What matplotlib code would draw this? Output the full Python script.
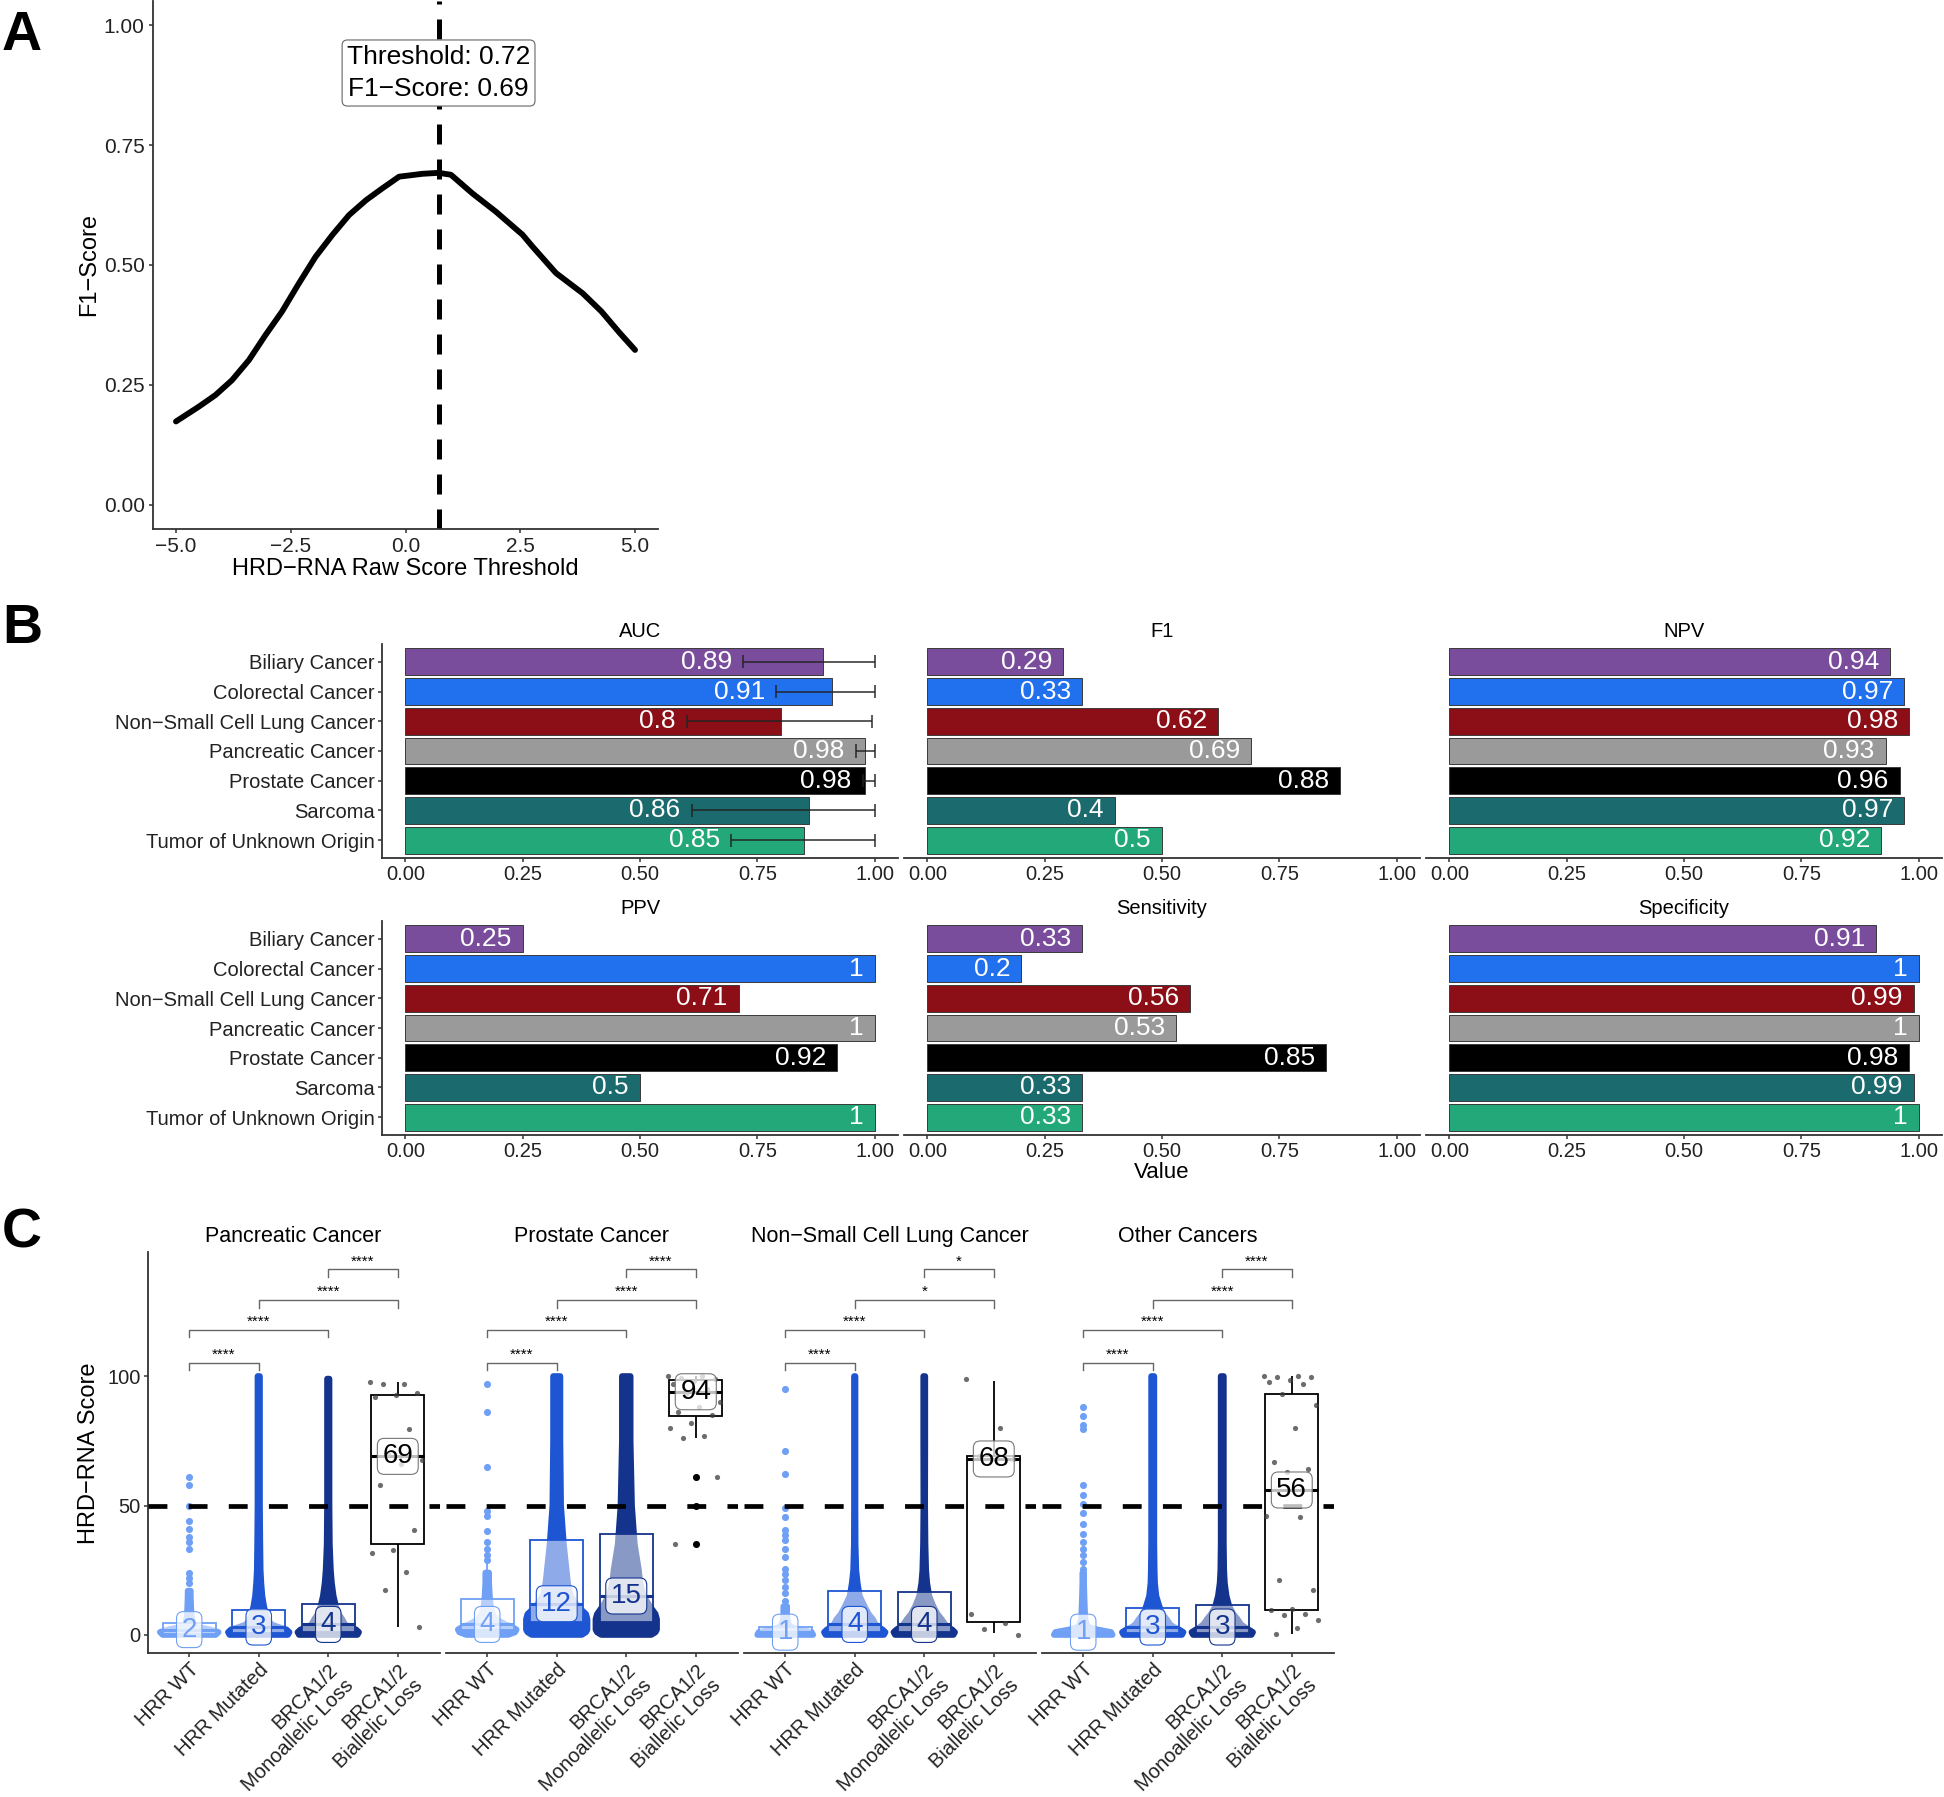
import numpy as np
import matplotlib
matplotlib.use('Agg')
import matplotlib.pyplot as plt
from matplotlib.patches import Rectangle

plt.rcParams['font.family'] = ['Liberation Sans', 'DejaVu Sans']
plt.rcParams['axes.linewidth'] = 1.3
plt.rcParams['axes.edgecolor'] = '#333333'
plt.rcParams['xtick.color'] = '#333333'
plt.rcParams['ytick.color'] = '#333333'
plt.rcParams['xtick.major.size'] = 3
plt.rcParams['ytick.major.size'] = 3
plt.rcParams['xtick.major.width'] = 1.1
plt.rcParams['ytick.major.width'] = 1.1

W, H = 1944, 1797

# ---- panel A: F1 score vs raw score threshold
thr = [-5.0, -4.5, -4.14, -3.78, -3.41, -3.05, -2.69, -2.32, -1.96, -1.59, -1.23, -0.86, -0.5,
       -0.14, 0.37, 0.72, 0.99, 1.46, 1.97, 2.55, 2.77, 3.28, 3.86, 4.27, 4.67, 5.0]
f1_curve = [0.174, 0.205, 0.229, 0.260, 0.302, 0.354, 0.403, 0.462, 0.517, 0.563, 0.604, 0.635,
            0.660, 0.684, 0.690, 0.692, 0.688, 0.649, 0.611, 0.563, 0.538, 0.483, 0.441, 0.403,
            0.358, 0.323]
best_thr = 0.72
best_f1 = 0.69

# ---- panel B: per cancer metrics
cancers = ['Biliary Cancer', 'Colorectal Cancer', 'Non\u2212Small Cell Lung Cancer',
           'Pancreatic Cancer', 'Prostate Cancer', 'Sarcoma', 'Tumor of Unknown Origin']
cancer_colors = ['#794C9C', '#2170EE', '#8C0F17', '#9A9A9A', '#000000', '#1B6B6E', '#23A87A']
metrics = ['AUC', 'F1', 'NPV', 'PPV', 'Sensitivity', 'Specificity']
auc = [0.89, 0.91, 0.8, 0.98, 0.98, 0.86, 0.85]
auc_lo = [0.72, 0.79, 0.60, 0.96, 0.975, 0.61, 0.695]
auc_hi = [1.0, 1.0, 0.995, 1.0, 1.0, 1.0, 1.0]
f1 = [0.29, 0.33, 0.62, 0.69, 0.88, 0.4, 0.5]
npv = [0.94, 0.97, 0.98, 0.93, 0.96, 0.97, 0.92]
ppv = [0.25, 1, 0.71, 1, 0.92, 0.5, 1]
sens = [0.33, 0.2, 0.56, 0.53, 0.85, 0.33, 0.33]
spec = [0.91, 1, 0.99, 1, 0.98, 0.99, 1]

# ---- panel C: HRD-RNA score by HRR status
c_panels = ['Pancreatic Cancer', 'Prostate Cancer', 'Non\u2212Small Cell Lung Cancer', 'Other Cancers']
c_groups = ['HRR WT', 'HRR Mutated', 'BRCA1/2\nMonoallelic Loss', 'BRCA1/2\nBiallelic Loss']
group_colors = ['#6FA0F5', '#1E55D2', '#14338C']

medians = [[2, 3, 4, 69], [4, 12, 15, 94], [1, 4, 4, 68], [1, 3, 3, 56]]
q1s = [[0.3, 0.8, 1, 35], [2, 5, 5, 84.5], [0.3, 1, 1, 4.9], [0.3, 0.8, 0.8, 9.7]]
q3s = [[4.5, 9.5, 12, 92.6], [13.9, 36.5, 39, 98.5], [3, 16.9, 16.5, 69], [2, 10.5, 11.7, 93.3]]
whisk_lo = [[0, 0, 0, 3], [0, 0, 0, 76], [0, 0, 0, 0.5], [0, 0, 0, 0.4]]
whisk_hi = [[10.8, 22.5, 28.5, 97.8], [31.7, 83.7, 90, 100], [7, 40.7, 40, 98], [4.5, 25, 28, 100]]

# half-width of the dense point clouds (category units) at these score levels
prof_y = [0, 1, 2, 3, 4, 6, 8, 11, 15, 20, 25, 35, 50, 75, 100]
swarm_top = [[17, 100, 99], [24, 100, 100], [11, 100, 100], [24, 100, 100]]
hw_panc = [[0.38, 0.42, 0.30, 0.12, 0.06, 0.04, 0.03, 0.025, 0.02, 0.015, 0, 0, 0, 0, 0],
           [0.42, 0.44, 0.40, 0.28, 0.18, 0.13, 0.10, 0.075, 0.05, 0.035, 0.025, 0.02, 0.015, 0.015, 0.015],
           [0.42, 0.44, 0.40, 0.30, 0.24, 0.20, 0.15, 0.11, 0.075, 0.05, 0.035, 0.02, 0.015, 0.015, 0.015]]
hw_prost = [[0.30, 0.40, 0.42, 0.36, 0.26, 0.13, 0.08, 0.05, 0.035, 0.025, 0.02, 0, 0, 0, 0],
            [0.36, 0.42, 0.44, 0.44, 0.44, 0.44, 0.42, 0.30, 0.20, 0.16, 0.14, 0.10, 0.06, 0.05, 0.03],
            [0.36, 0.42, 0.44, 0.44, 0.44, 0.44, 0.42, 0.34, 0.25, 0.20, 0.18, 0.12, 0.08, 0.06, 0.07]]
hw_nsclc = [[0.40, 0.38, 0.20, 0.08, 0.05, 0.03, 0.025, 0.02, 0, 0, 0, 0, 0, 0, 0],
            [0.42, 0.44, 0.40, 0.34, 0.30, 0.26, 0.20, 0.14, 0.07, 0.04, 0.02, 0.01, 0.008, 0.008, 0.008],
            [0.42, 0.44, 0.40, 0.34, 0.30, 0.25, 0.19, 0.13, 0.07, 0.04, 0.025, 0.015, 0.01, 0.012, 0.02]]
hw_other = [[0.42, 0.40, 0.20, 0.08, 0.05, 0.03, 0.025, 0.02, 0.015, 0.01, 0, 0, 0, 0, 0],
            [0.42, 0.44, 0.38, 0.30, 0.25, 0.20, 0.14, 0.095, 0.05, 0.03, 0.025, 0.02, 0.02, 0.02, 0.02],
            [0.42, 0.44, 0.38, 0.32, 0.27, 0.22, 0.16, 0.10, 0.06, 0.035, 0.025, 0.02, 0.02, 0.02, 0.02]]

# sparse HRR WT points above the dense cloud
wt_panc = [20, 22, 24, 33, 36, 38, 41, 44, 50, 58, 61]
wt_prost = [29, 31, 33, 36, 40, 46, 48, 65, 86, 97]
wt_nsclc = [13, 16, 18.5, 21, 23.5, 25.5, 30, 33, 36.5, 38.5, 40.5, 45.5, 49, 62, 71, 95]
wt_other = [25.5, 28, 30.7, 33.3, 36, 39, 43, 47, 50.7, 54, 58, 79.4, 81, 84.5, 88]

# BRCA1/2 biallelic loss samples
bi_panc = [97.8, 96.9, 96.9, 93.5, 92.6, 92, 79.4, 70, 67.5, 66, 57.8, 40.6, 32.9, 31.7, 24.3, 17.4, 3.0]
bi_prost = [100, 100, 99.5, 99, 98, 97, 95, 93, 90, 88, 86, 85, 82, 80, 77, 76, 61, 50, 35]
bi_nsclc = [99, 80, 69, 68, 68, 8, 4.5, 2.3, 0]
bi_other = [100, 100, 99.7, 99.7, 98.5, 97.8, 97, 93.3, 89, 80, 67, 64, 63, 46, 45.5, 21, 17.4,
            9.8, 9.7, 7.9, 7.5, 5.8, 2.6, 0.4]
bi_outliers = [[], [61, 50, 35], [], []]

stars = [['****', '****', '****', '****'], ['****', '****', '****', '****'],
         ['****', '****', '*', '*'], ['****', '****', '****', '****']]
bracket_pairs = [(0, 1), (0, 2), (1, 3), (2, 3)]
bracket_y = [105.3, 118, 129.4, 141.3]


def add_ax(left, top, right, bottom):
    return fig.add_axes([left / W, 1 - bottom / H, (right - left) / W, (bottom - top) / H])


fig = plt.figure(figsize=(W / 100, H / 100), dpi=100)

# ================= A =================
axA = add_ax(153, 1, 658, 529)
axA.plot(thr, f1_curve, color='black', lw=4.2, solid_capstyle='round', solid_joinstyle='round')
axA.axvline(best_thr, color='black', lw=3.6, ls=(0, (4, 3)))
axA.text(best_thr, 0.9, f'Threshold: {best_thr}\nF1\u2212Score: {best_f1}', ha='center', va='center',
         fontsize=19, linespacing=1.45,
         bbox=dict(boxstyle='round,pad=0.18,rounding_size=0.2', fc='white', ec='#666666', lw=0.8))
axA.set_xlim(-5.5, 5.5)
axA.set_ylim(-0.05, 1.05)
axA.set_xticks([-5, -2.5, 0, 2.5, 5])
axA.set_xticklabels(['\u22125.0', '\u22122.5', '0.0', '2.5', '5.0'])
axA.set_yticks([0, 0.25, 0.5, 0.75, 1.0])
axA.set_yticklabels(['0.00', '0.25', '0.50', '0.75', '1.00'])
axA.tick_params(labelsize=15, labelcolor='#222222', pad=3)
axA.spines['top'].set_visible(False)
axA.spines['right'].set_visible(False)
axA.set_xlabel('HRD\u2212RNA Raw Score Threshold', fontsize=17, labelpad=1)
fig.text(89 / W, 1 - 264 / H, 'F1\u2212Score', rotation=90, ha='center', va='center', fontsize=17)

# ================= B =================
metric_vals = [auc, f1, npv, ppv, sens, spec]
cols_px = [(382, 898), (904, 1420), (1426, 1942)]
rows_px = [(644, 858), (921, 1135)]
ypos = np.arange(len(cancers))
for i, name in enumerate(metrics):
    r, c = divmod(i, 3)
    ax = add_ax(cols_px[c][0], rows_px[r][0], cols_px[c][1], rows_px[r][1])
    vals = metric_vals[i]
    ax.barh(ypos, vals, height=0.9, color=cancer_colors, edgecolor='#3a3a3a', lw=0.7, zorder=2)
    if name == 'AUC':
        ax.hlines(ypos, auc_lo, auc_hi, color='#222222', lw=1.4, alpha=0.75, zorder=3)
        ax.vlines(auc_lo, ypos - 0.22, ypos + 0.22, color='#222222', lw=1.4, alpha=0.75, zorder=3)
        ax.vlines(auc_hi, ypos - 0.22, ypos + 0.22, color='#222222', lw=1.4, alpha=0.75, zorder=3)
        lab_pos = auc_lo
    else:
        lab_pos = vals
    for j, v in enumerate(vals):
        ax.annotate(f'{v:g}', (lab_pos[j], ypos[j]), xytext=(-8, 0), textcoords='offset points',
                    ha='right', va='center', color='white', fontsize=19, zorder=4)
    ax.set_xlim(-0.05, 1.05)
    ax.set_ylim(len(cancers) - 0.4, -0.6)
    ax.set_xticks([0, 0.25, 0.5, 0.75, 1.0])
    ax.set_xticklabels(['0.00', '0.25', '0.50', '0.75', '1.00'])
    ax.spines['top'].set_visible(False)
    ax.spines['right'].set_visible(False)
    if c == 0:
        ax.set_yticks(ypos)
        ax.set_yticklabels(cancers)
    else:
        ax.set_yticks([])
        ax.spines['left'].set_visible(False)
    ax.tick_params(labelsize=14.5, labelcolor='#222222', pad=2)
    ax.set_title(name, fontsize=14.5, pad=5)
fig.text(1162 / W, 1 - 1173 / H, 'Value', ha='center', va='center', fontsize=16)

# ================= C =================
hw_all = [hw_panc, hw_prost, hw_nsclc, hw_other]
wt_all = [wt_panc, wt_prost, wt_nsclc, wt_other]
bi_all = [bi_panc, bi_prost, bi_nsclc, bi_other]
golden = 0.6180339887
for p, title in enumerate(c_panels):
    left = 147.5 + p * 298
    ax = add_ax(left, 1252, left + 292, 1653)
    for g in range(3):
        cx = g + 1
        col = group_colors[g]
        top = swarm_top[p][g]
        hw = hw_all[p][g]
        lv = [y for y in prof_y if y < top]
        ws = hw[:len(lv)]
        lv = lv + [top]
        ws = ws + [ws[-1]]
        xs = [cx - w for w in ws] + [cx + w for w in ws[::-1]]
        ys = lv + lv[::-1]
        ax.fill(xs, ys, fc=col, ec=col, lw=4.4, joinstyle='round', zorder=2)
        if g == 0:
            pts = wt_all[p]
            ax.scatter([cx] * len(pts), pts, s=26, color=col, lw=0, zorder=2)
    for g in range(4):
        cx = g + 1
        col = group_colors[g] if g < 3 else 'black'
        ax.add_patch(Rectangle((cx - 0.38, q1s[p][g]), 0.76, q3s[p][g] - q1s[p][g],
                               fc=(1, 1, 1, 0.5), ec=col, lw=1.3, zorder=3))
        ax.vlines(cx, q3s[p][g], whisk_hi[p][g], color=col, lw=1.3, zorder=3)
        ax.vlines(cx, whisk_lo[p][g], q1s[p][g], color=col, lw=1.3, zorder=3)
        ax.hlines(medians[p][g], cx - 0.38, cx + 0.38, color=col, lw=2.2, zorder=3)
    bvals = bi_all[p]
    offs = ((np.arange(len(bvals)) * golden) % 1 - 0.5) * 0.8
    ax.scatter(4 + offs, bvals, s=14, color='#3c3c3c', alpha=0.75, lw=0, zorder=4)
    if bi_outliers[p]:
        ax.scatter([4] * len(bi_outliers[p]), bi_outliers[p], s=26, color='black', lw=0, zorder=4)
    ax.axhline(50, color='black', lw=3.4, ls=(0, (4, 4.5)), zorder=5)
    for g in range(4):
        tcol = group_colors[g] if g < 3 else 'black'
        ecol = group_colors[g] if g < 3 else '#777777'
        ax.text(g + 1, medians[p][g], f'{medians[p][g]}', ha='center', va='center', fontsize=20,
                color=tcol, zorder=7,
                bbox=dict(boxstyle='round,pad=0.18,rounding_size=0.25', fc=(1, 1, 1, 0.75),
                          ec=ecol, lw=0.8))
    for k, (a, b) in enumerate(bracket_pairs):
        y = bracket_y[k]
        ax.plot([a + 1, a + 1, b + 1, b + 1], [y - 3, y, y, y - 3], color='#666666', lw=1,
                clip_on=False, zorder=3)
        ax.text((a + b) / 2 + 1, y + 0.4, stars[p][k], ha='center', va='bottom', fontsize=11,
                zorder=3)
    ax.set_xlim(0.4, 4.6)
    ax.set_ylim(-7.05, 148.05)
    ax.set_xticks([1, 2, 3, 4])
    ax.set_xticklabels(c_groups, rotation=45, ha='right', va='top', rotation_mode='anchor')
    ax.spines['top'].set_visible(False)
    ax.spines['right'].set_visible(False)
    if p == 0:
        ax.set_yticks([0, 50, 100])
    else:
        ax.set_yticks([])
        ax.spines['left'].set_visible(False)
    ax.tick_params(labelsize=14.5, labelcolor='#222222', pad=2)
    ax.set_title(title, fontsize=15.5, pad=7)
fig.text(89 / W, 1 - 1453 / H, 'HRD\u2212RNA Score', rotation=90, ha='center', va='center', fontsize=17)

# panel letters
for lab, yc in [('A', 36), ('B', 629), ('C', 1234)]:
    fig.text(22 / W, 1 - yc / H, lab, ha='center', va='center', fontsize=40, fontweight='bold')

fig.savefig('out.png', dpi=100)
